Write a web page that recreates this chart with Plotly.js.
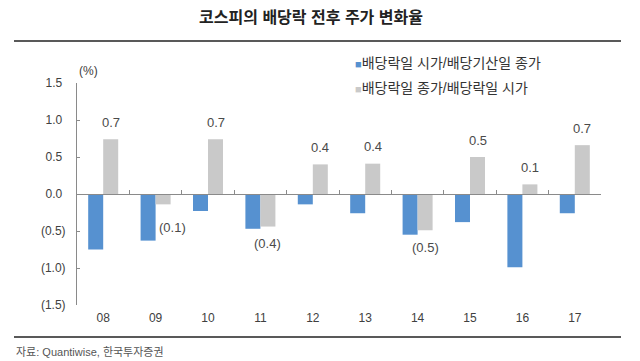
<!DOCTYPE html>
<html>
<head>
<meta charset="utf-8">
<script src="https://cdn.plot.ly/plotly-3.0.1.min.js"></script>
<style>html,body{margin:0;padding:0;background:#fff;}#chart{width:640px;height:361px;}</style>
</head>
<body>
<div id="chart"></div>
<script>
// ---- data ----
const years = ['08','09','10','11','12','13','14','15','16','17'];
const openVsPrevClose = [-0.75,-0.63,-0.23,-0.47,-0.14,-0.26,-0.55,-0.38,-0.99,-0.26];
const closeVsOpen     = [0.74,-0.14,0.74,-0.44,0.40,0.41,-0.49,0.50,0.13,0.66];
const seriesNames = ['배당락일 시가/배당기산일 종가','배당락일 종가/배당락일 시가'];
const yTicks = [1.5,1.0,0.5,0.0,-0.5,-1.0,-1.5];
const titleText = '코스피의 배당락 전후 주가 변화율';
const unitText = '(%)';
const sourceText = '자료: Quantiwise, 한국투자증권';

// ---- style ----
const W = 640, H = 361;
const M = {l:77, r:39, t:83, b:56};
const plotW = W - M.l - M.r, plotH = H - M.t - M.b;
const px2x = p => (p - M.l) / plotW;
const px2y = p => (H - M.b - p) / plotH;
const FONT = 'Arial, "Liberation Sans", "Noto Sans CJK KR", sans-serif';
const BLUE = '#5691d0', GRAY = '#c9c9c9';
const fmt = v => v < 0 ? '(' + Math.abs(v).toFixed(1) + ')' : v.toFixed(1) + '\u00a0';
const labelNudge = {'09': [9, -6]};

const traces = [
  {type:'bar', x:years, y:openVsPrevClose, name:seriesNames[0], marker:{color:BLUE}, hoverinfo:'x+y'},
  {type:'bar', x:years, y:closeVsOpen, name:seriesNames[1], marker:{color:GRAY}, hoverinfo:'x+y'},
  {type:'scatter', mode:'none', x:years, y:openVsPrevClose, xaxis:'x2', yaxis:'y', showlegend:false, hoverinfo:'skip'}
];

const annotations = [];
closeVsOpen.forEach((v,i) => {
  const n = labelNudge[years[i]] || [0,0];
  annotations.push({
    xref:'x', yref:'y', x:i, y:v, text:fmt(v).trim(), showarrow:false,
    xshift:7.5 + n[0], yshift:(v >= 0 ? 17 : -17) + n[1],
    xanchor:'center', yanchor:'middle',
    font:{family:FONT, size:13, color:'#4a4a4a'}
  });
});
annotations.push({xref:'paper', yref:'paper', x:0, y:px2y(71), text:unitText, showarrow:false,
  xanchor:'left', yanchor:'middle', font:{family:FONT, size:12, color:'#404040'}});
seriesNames.forEach((s,i) => {
  annotations.push({xref:'paper', yref:'paper', x:px2x(353), y:px2y(i === 0 ? 63 : 88),
    text:'<span style="color:' + (i === 0 ? BLUE : GRAY) + ';font-size:11px">■</span>' + s, showarrow:false,
    xanchor:'left', yanchor:'middle', font:{family:FONT, size:14, color:'#333333'}});
});
annotations.push({xref:'paper', yref:'paper', x:px2x(14), y:px2y(352), text:sourceText, showarrow:false,
  xanchor:'left', yanchor:'middle', font:{family:FONT, size:11, color:'#555555'}});

const layout = {
  width:W, height:H, margin:M, paper_bgcolor:'#fff', plot_bgcolor:'#fff',
  showlegend:false, barmode:'group', bargap:0.427, bargroupgap:0,
  font:{family:FONT, size:12, color:'#404040'},
  title:{text:'<b>' + titleText + '</b>', xref:'paper', x:px2x(311), xanchor:'center',
    yref:'container', y:1 - 17/H, yanchor:'middle', font:{family:FONT, size:16, color:'#222'}},
  xaxis:{type:'category', categoryarray:years, range:[-0.5, years.length - 0.5], anchor:'free', position:0.5,
    showline:true, linecolor:'#8a8a8a', linewidth:1, ticks:'inside', ticklen:4, tickcolor:'#8a8a8a',
    tickson:'boundaries', showticklabels:false, showgrid:false, zeroline:false, fixedrange:true},
  xaxis2:{type:'category', categoryarray:years, overlaying:'x', anchor:'y', side:'bottom',
    range:[-0.5, years.length - 0.5], showline:false, ticks:'', showgrid:false, zeroline:false,
    ticklabelstandoff:4, tickfont:{family:FONT, size:12, color:'#404040'}},
  yaxis:{range:[-1.5, 1.5], tickvals:yTicks, ticktext:yTicks.map(fmt), showline:true, linecolor:'#8a8a8a',
    linewidth:1, ticks:'inside', ticklen:3, tickcolor:'#8a8a8a', showgrid:false, zeroline:false,
    ticklabelstandoff:8, tickfont:{family:FONT, size:12, color:'#404040'}},
  shapes:[
    {type:'line', xref:'paper', yref:'paper', x0:px2x(14), x1:px2x(621), y0:px2y(41), y1:px2y(41), line:{color:'#222', width:1.5}},
    {type:'line', xref:'paper', yref:'paper', x0:px2x(14), x1:px2x(621), y0:px2y(337), y1:px2y(337), line:{color:'#222', width:1.5}}
  ],
  annotations:annotations
};

Plotly.newPlot('chart', traces, layout, {staticPlot:true, displayModeBar:false});
</script>
</body>
</html>
